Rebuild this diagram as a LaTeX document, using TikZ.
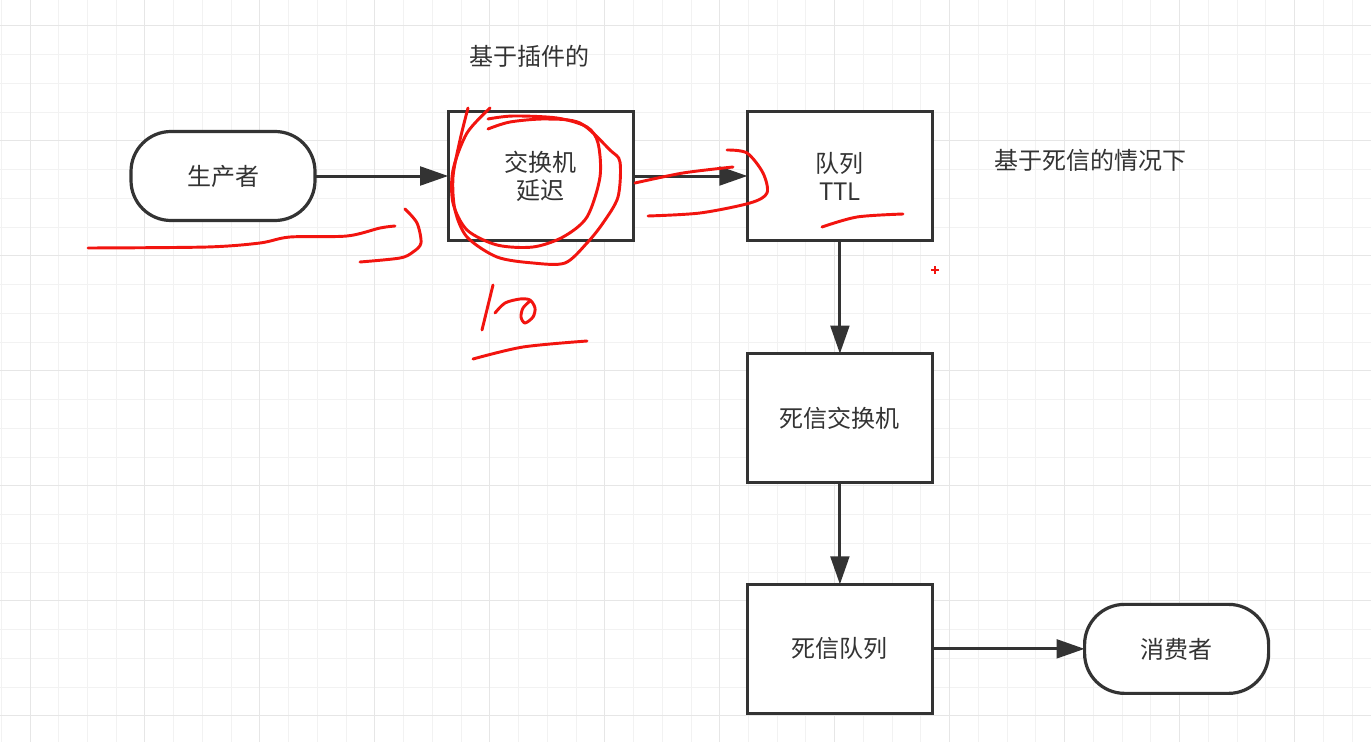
\documentclass[tikz,border=0pt]{standalone}
\usepackage{fontspec}
\usetikzlibrary{arrows.meta,positioning}
\newfontfamily\cjk{Noto Sans CJK SC}
\definecolor{Ink}{HTML}{333333}
\definecolor{Pen}{HTML}{F2140F}
\definecolor{GridL}{HTML}{F2F2F2}
\definecolor{GridD}{HTML}{E6E6E6}

\begin{document}
\begin{tikzpicture}[x=0.75pt,y=-0.75pt,
    font=\cjk\fontsize{18}{21}\selectfont,
    term/.style={draw=Ink,fill=white,text=Ink,line width=2.4pt,rounded corners=30pt,outer sep=0pt,
      minimum width=138pt,minimum height=66.75pt},
    box/.style={draw=Ink,fill=white,text=Ink,line width=2.4pt,align=center,outer sep=0pt,
      minimum width=138.75pt,minimum height=96.75pt},
    flow/.style={draw=Ink,line width=2.25pt,-{Triangle[length=21pt,width=14pt]}},
    pen/.style={draw=Pen,line width=2.2pt,line cap=round,line join=round}]
  \useasboundingbox[fill=white] (0,0) rectangle (1371,742);
  \foreach \i in {0,...,47}
    \draw[GridL,line width=0.75pt] ({1.26+\i*28.74},0) -- ({1.26+\i*28.74},742);
  \foreach \j in {0,...,24}
    \draw[GridL,line width=0.75pt] (0,{26+\j*28.74}) -- (1371,{26+\j*28.74});
  \foreach \i in {0,...,11}
    \draw[GridD,line width=0.75pt] ({30+\i*114.96},0) -- ({30+\i*114.96},742);
  \foreach \j in {0,...,6}
    \draw[GridD,line width=0.75pt] (0,{26+\j*114.96}) -- (1371,{26+\j*114.96});

  \node[term] (prod) at (223,176) {生产者};
  \node[box, right=99.9pt of prod] (ex) {交换机\\延迟};
  \node[box, right=85.65pt of ex] (ttl) {队列\\TTL};
  \node[box, below=84.9pt of ttl] (dlx) {死信交换机};
  \node[box, below=76.25pt of dlx] (dlq) {死信队列};
  \node[term, right=114.15pt of dlq] (cons) {消费者};
  \node[text=Ink] (plugin) at (529,56) {基于插件的};
  \node[text=Ink] (dead) at (1090,160) {基于死信的情况下};

  \draw[flow] (prod) -- (ex);
  \draw[flow] (ex) -- (ttl);
  \draw[flow] (ttl) -- (dlx);
  \draw[flow] (dlx) -- (dlq);
  \draw[flow] (dlq) -- (cons);

  \draw[pen] plot[smooth] coordinates {(88,248) (207,247) (260,243) (290,237) (347,236) (380,228) (395,226)};
  \draw[pen] plot[smooth] coordinates {(405,209) (417,223) (421,243) (413,252) (400,258) (360,262)};
  \draw[pen] plot[smooth] coordinates {(490,108) (467,133) (453,170) (453,203) (467,230) (497,245)
    (533,247) (563,237) (587,217) (600,177) (598,143) (587,127) (557,118) (513,116) (488,119)};
  \draw[pen] plot[smooth] coordinates {(488,129) (510,122) (545,119) (580,123) (610,150) (620,162)
    (618,197) (603,223) (587,243) (565,263) (533,263) (497,257) (467,237) (455,210) (453,177)
    (460,140) (468,108)};
  \draw[pen] plot[smooth] coordinates {(635,183) (683,173) (733,167)};
  \draw[pen] plot[smooth] coordinates {(727,150) (747,153) (763,173) (767,193) (750,203) (700,213) (648,216)};
  \draw[pen] plot[smooth] coordinates {(822,227) (857,217) (903,214)};
  \draw[Pen,line width=1.3pt] (931,270) -- (939,270) (935,266) -- (935,274);
  \draw[pen] (493,285) -- (482,330);
  \draw[pen] plot[smooth] coordinates {(495,313) (505,303) (520,299) (530,300) (535,308) (533,317)
    (525,323) (521,317) (523,308) (530,301)};
  \draw[pen] plot[smooth] coordinates {(473,359) (523,347) (587,341)};
\end{tikzpicture}
\end{document}
